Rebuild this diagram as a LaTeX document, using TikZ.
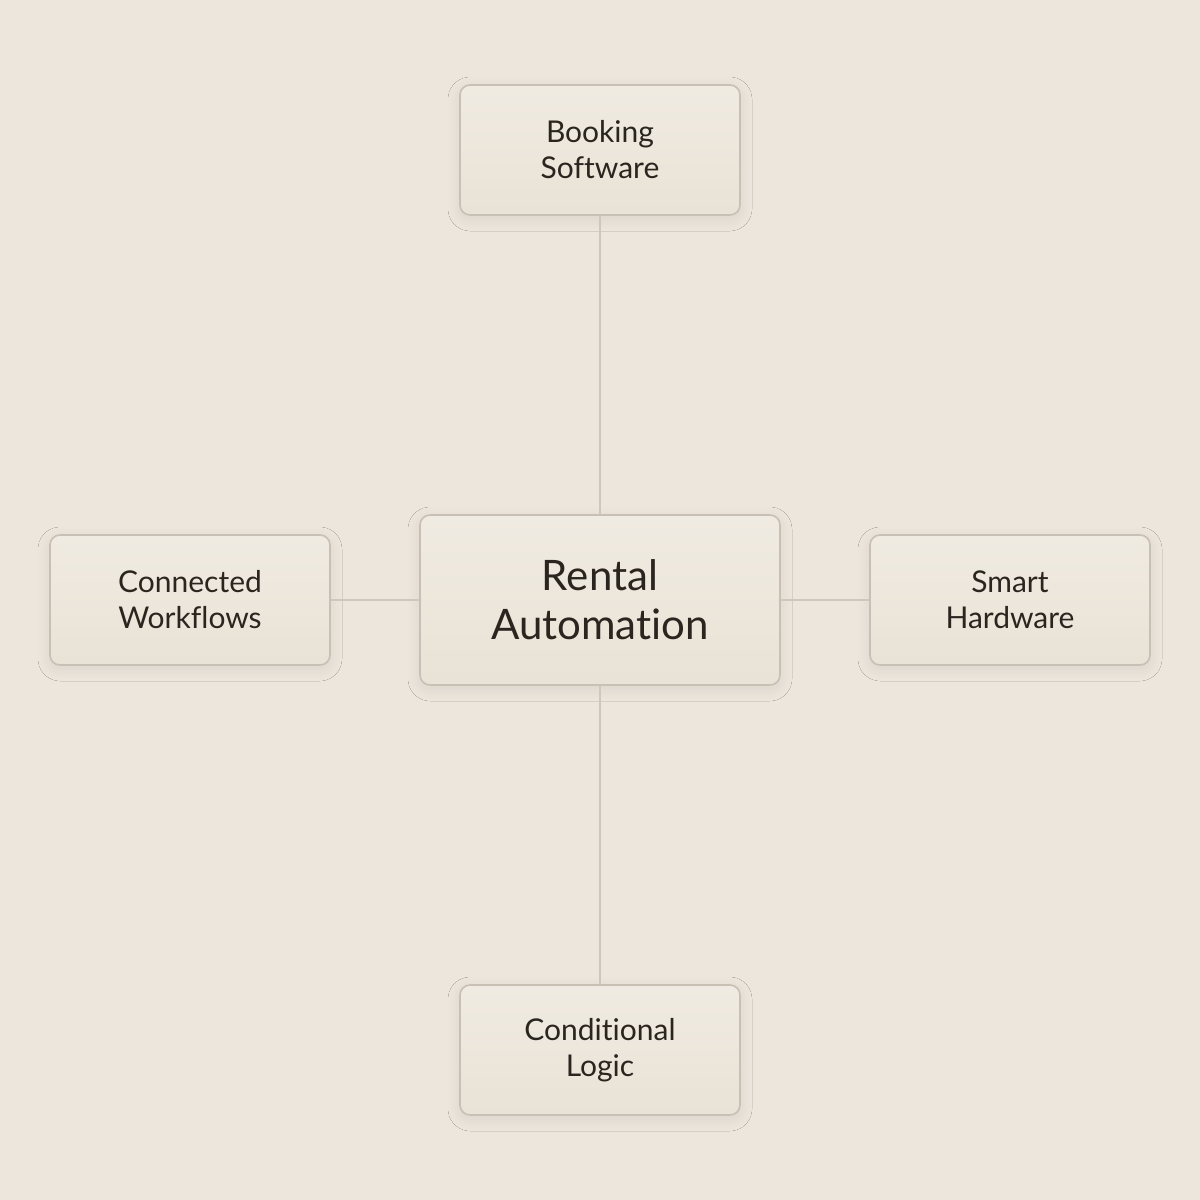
\documentclass[tikz,border=0pt]{standalone}
\usepackage{fontspec}
\setmainfont{Lato}[Ligatures={NoCommon,NoRequired,NoContextual}]
\usetikzlibrary{shadows.blur}
\definecolor{bg}{HTML}{EDE6DD}
\definecolor{boxtop}{HTML}{F0EBE2}
\definecolor{boxbot}{HTML}{E9E2D6}
\definecolor{boxdraw}{HTML}{C9C0B5}
\definecolor{link}{HTML}{CFC7BD}
\definecolor{ink}{HTML}{2B2520}
\begin{document}
\begin{tikzpicture}[x=0.5pt,y=-0.5pt,
  box/.style={draw=boxdraw,line width=0.8pt,rounded corners=5pt,top color=boxtop,bottom color=boxbot,
    text=ink,align=center,font=\fontsize{15}{18}\selectfont,minimum width=140pt,minimum height=65pt,inner sep=0pt,
    blur shadow={shadow blur steps=8,shadow blur radius=6pt,shadow xshift=0pt,shadow yshift=-2pt,shadow opacity=8}},
  big/.style={box,minimum width=180pt,minimum height=85pt,font=\fontsize{21}{24.5}\selectfont},
  link/.style={draw=link,line width=0.7pt}]
\fill[bg] (0,0) rectangle (1200,1200);
\useasboundingbox (0,0) rectangle (1200,1200);
\node[big] (c) at (600,600) {Rental\\Automation};
\node[box] (t) at (600,150) {Booking\\Software};
\node[box] (l) at (190,600) {Connected\\Workflows};
\node[box] (r) at (1010,600) {Smart\\Hardware};
\node[box] (b) at (600,1050) {Conditional\\Logic};
\draw[link] (t) -- (c);
\draw[link] (c) -- (b);
\draw[link] (l) -- (c);
\draw[link] (c) -- (r);
\end{tikzpicture}
\end{document}
